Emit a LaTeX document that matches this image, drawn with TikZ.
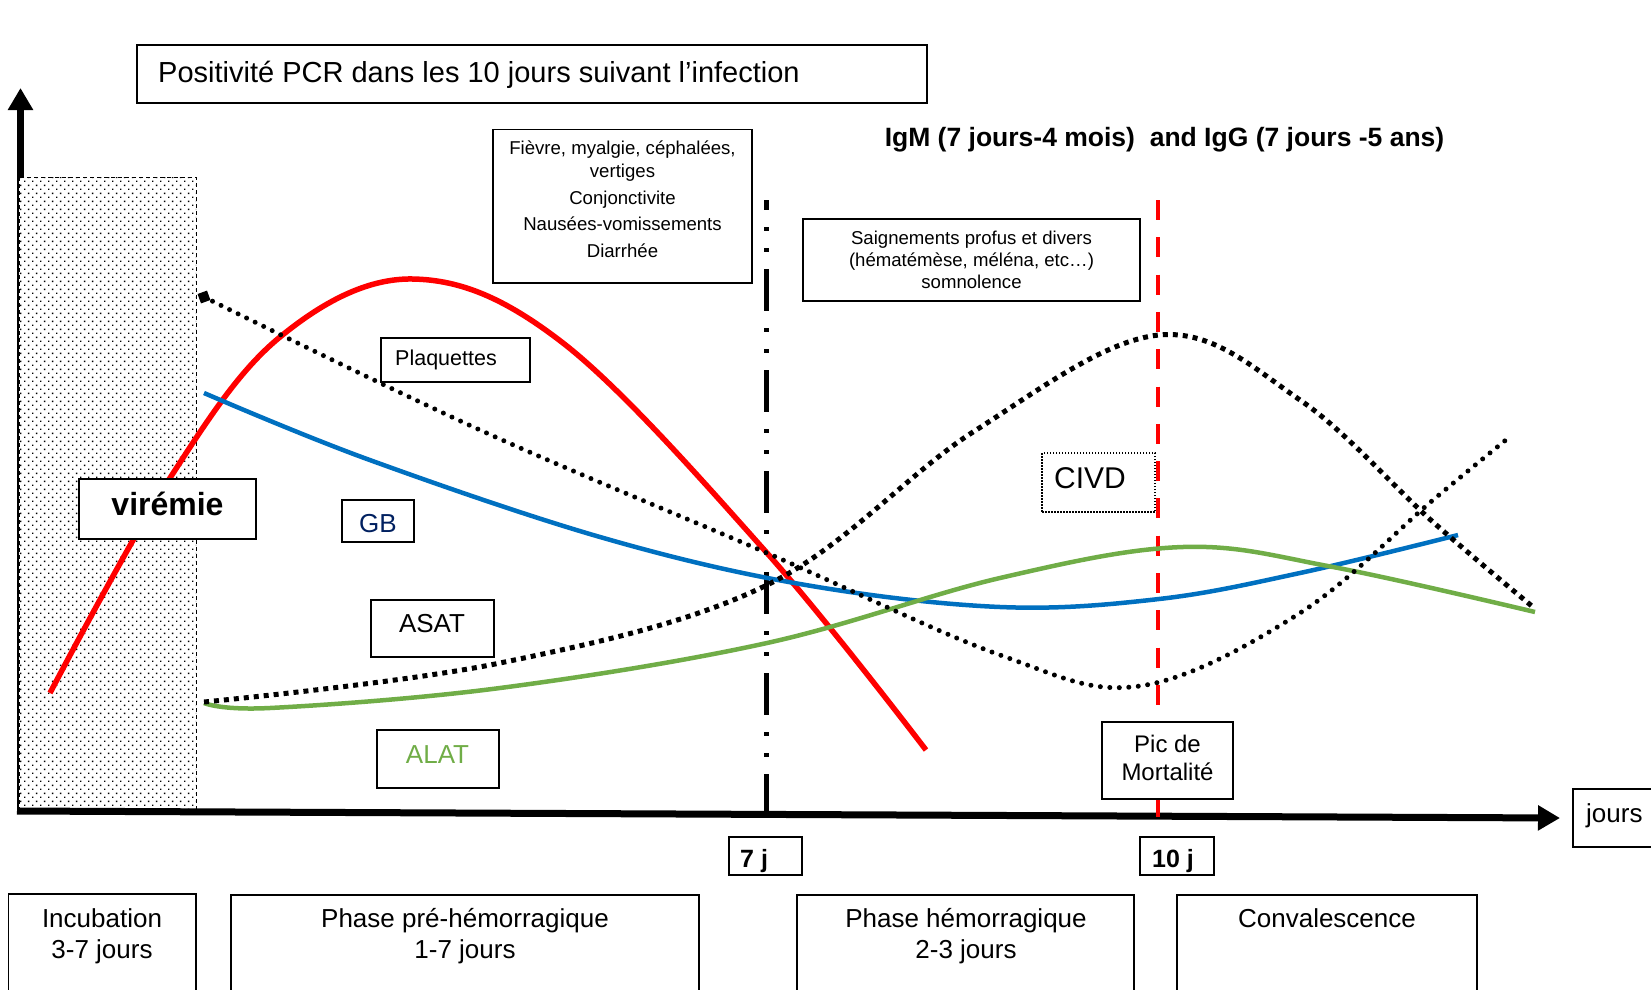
\documentclass[tikz,border=0pt]{standalone}
\usepackage{fontspec}
\setmainfont{Liberation Sans}
\usetikzlibrary{arrows.meta,fit,patterns}
\definecolor{cred}{RGB}{255,0,0}
\definecolor{cblue}{RGB}{0,112,192}
\definecolor{cgreen}{RGB}{112,173,71}
\definecolor{cnavy}{RGB}{0,32,96}
\pgfdeclarepatternformonly{stipple}{\pgfpointorigin}{\pgfpoint{8.4pt}{8.4pt}}{\pgfpoint{8.4pt}{8.4pt}}{%
  \pgfpathrectangle{\pgfpointorigin}{\pgfpoint{1.5pt}{1.5pt}}%
  \pgfpathrectangle{\pgfpoint{4.2pt}{4.2pt}}{\pgfpoint{1.5pt}{1.5pt}}%
  \pgfusepath{fill}}
\begin{document}
\begin{tikzpicture}[x=1pt,y=-1pt,
  box/.style={draw=black, line width=1.8pt, fill=white, inner sep=0pt},
  txt/.style={inner sep=0pt, text=black},
  big/.style={font=\fontsize{26}{31}\selectfont},
  small/.style={font=\fontsize{18.6}{22.4}\selectfont},
  curve/.style={line width=4.5pt},
  rdots/.style={line width=5pt, line cap=round, dash pattern=on 0pt off 9.5pt},
  sdots/.style={line width=5pt, line cap=butt, dash pattern=on 5pt off 5pt},
  axisline/.style={line width=7pt, -{Triangle[length=22pt,width=24pt]}}]
\useasboundingbox (0,0) rectangle (1651,990);
% axes coordinates
\coordinate (yb) at (20.5,811);
\coordinate (yt) at (20.5,88);
\coordinate (xl) at (17,811);
\coordinate (xr) at (1560,818);
\coordinate (s7t) at (766,200);
\coordinate (s7b) at (766,813);
\coordinate (s10t) at (1158,200);
\coordinate (s10b) at (1158,818);
% y axis
\draw[axisline] (yb) -- (yt);
% incubation stippled area
\draw[preaction={fill=white}, pattern=stipple, line width=1pt, dash pattern=on 4pt off 3pt] (19,177) rectangle (196,811);
% x axis
\draw[axisline] (xl) -- (xr);
% vertical markers
\draw[line width=5pt, dash pattern=on 42pt off 17pt on 4pt off 17pt on 4pt off 17pt, dash phase=32pt] (s7t) -- (s7b);
\draw[cred, line width=4.5pt, dash pattern=on 20pt off 17.3pt] (s10t) -- (s10b);
% curves
\draw[cred, line width=5.5pt] plot[smooth, tension=0.6] coordinates {(50,693) (170,478) (280,337) (413,279) (563,343) (767,553) (926,750)};
\draw[cblue, curve] plot[smooth, tension=0.6] coordinates {(204,393) (367,459) (600,537) (800,584) (1000,607) (1159,599) (1300,573) (1458,535)};
\draw[cgreen, curve] plot[smooth, tension=0.6] coordinates {(204,703) (270,708) (500,688) (767,643) (1000,578) (1183,547) (1333,567) (1535,612)};
\draw[rdots] plot[smooth, tension=0.6] coordinates {(204,297) (480,430) (767,553) (1000,655) (1140,686) (1300,613) (1433,500) (1512,435)};
\draw[sdots] plot[smooth, tension=0.6] coordinates {(204,702) (500,663) (767,585) (973,432) (1159,335) (1300,400) (1433,522) (1533,607)};
\node[fill=black, rotate=20, minimum size=10pt, inner sep=0pt] (pmark) at (204,297) {};
% title
\node[box, fit={(137,45) (927,103)}] (title) {};
\node[txt, anchor=base west, font=\fontsize{29}{34}\selectfont] (titleT) at (158,82) {Positivité PCR dans les 10 jours suivant l’infection};
% symptom boxes
\node[box, fit={(493,129.5) (752,283)}] (sym1) {};
\node[txt, small, align=center] (sym1T) at (622.5,199.5) {Fièvre, myalgie, céphalées,\\vertiges\\[4.4pt]Conjonctivite\\[4.4pt]Nausées-vomissements\\[4.4pt]Diarrhée};
\node[box, fit={(803,219) (1140,301)}] (sym2) {};
\node[txt, small, align=center, font=\fontsize{18.6}{22.2}\selectfont] (sym2T) at (971.5,259.7) {Saignements profus et divers\\(hématémèse, méléna, etc…)\\somnolence};
\node[txt, anchor=base, font=\bfseries\fontsize{26.5}{31}\selectfont] (igm) at (1164.5,146) {IgM (7 jours-4 mois)\ \ and IgG (7 jours -5 ans)};
% curve labels
\node[box, fit={(381,338) (530,382)}] (plq) {};
\node[txt, anchor=base west, font=\fontsize{21.5}{25}\selectfont] (plqT) at (395,365) {Plaquettes};
\node[box, fit={(79,479) (256,539)}] (vir) {};
\node[txt, anchor=base, font=\bfseries\fontsize{32}{36}\selectfont] (virT) at (167.5,515) {virémie};
\node[box, fit={(342,500) (414,542)}] (gb) {};
\node[txt, big, anchor=base, text=cnavy] (gbT) at (378,532.3) {GB};
\node[box, fit={(371,600) (494,657)}] (asat) {};
\node[txt, big, anchor=base] (asatT) at (432,632.3) {ASAT};
\node[box, fit={(377,730) (499,788)}] (alat) {};
\node[txt, big, anchor=base, text=cgreen] (alatT) at (437.5,763.3) {ALAT};
\node[box, draw=black, line width=1.3pt, dash pattern=on 1.5pt off 1.5pt, fit={(1042,453) (1155,512)}] (civd) {};
\node[txt, anchor=base, font=\fontsize{30}{34}\selectfont] (civdT) at (1090,488) {CIVD};
% mortality
\node[box, fit={(1102,722) (1233,799)}] (pic) {};
\node[txt, align=center, font=\fontsize{24}{28}\selectfont] (picT) at (1167.5,757.5) {Pic de\\Mortalité};
% day boxes
\node[box, fit={(728.6,837) (802,875)}] (d7) {};
\node[txt, anchor=base west, font=\bfseries\fontsize{25}{30}\selectfont] (d7T) at (740,867) {7 j};
\node[box, fit={(1140,837) (1214,875)}] (d10) {};
\node[txt, anchor=base west, font=\bfseries\fontsize{25}{30}\selectfont] (d10T) at (1152,867) {10 j};
\node[box, fit={(1573,789) (1656,847)}] (jours) {};
\node[txt, big, anchor=base west] (joursT) at (1586,822.7) {jours};
% phase boxes
\node[box, fit={(8.4,894) (196,1010)}] (ph1) {};
\node[txt, big, align=center] (ph1T) at (102,936) {Incubation\\3-7 jours};
\node[box, fit={(230.6,895) (699,1010)}] (ph2) {};
\node[txt, big, align=center] (ph2T) at (465,936) {Phase pré-hémorragique\\1-7 jours};
\node[box, fit={(797,895) (1134,1010)}] (ph3) {};
\node[txt, big, align=center] (ph3T) at (966,936) {Phase hémorragique\\2-3 jours};
\node[box, fit={(1177,895) (1477,1010)}] (ph4) {};
\node[txt, big, anchor=base] (ph4T) at (1327,927) {Convalescence};
\end{tikzpicture}
\end{document}
